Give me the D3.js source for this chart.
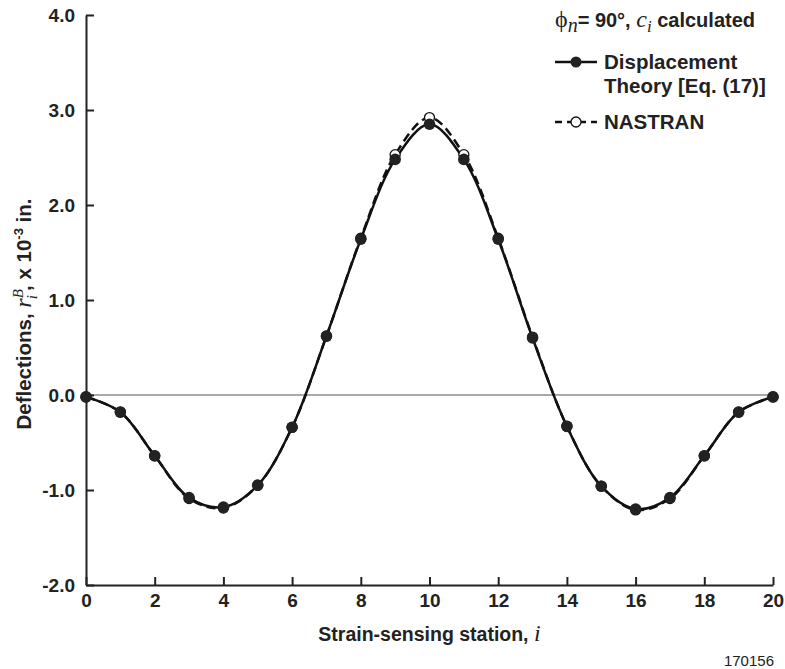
<!DOCTYPE html>
<html>
<head>
<meta charset="utf-8">
<script src="https://cdn.jsdelivr.net/npm/d3@7"></script>
<style>
  body { margin: 0; background: #fff; }
  text { font-family: "Liberation Sans", Arial, sans-serif; font-weight: bold; fill: #222; }
  .axis path, .axis line { stroke: #222; stroke-width: 2; }
  .axis text { font-size: 19px; }
  .math { font-family: "Liberation Serif", "Times New Roman", serif; font-style: italic; font-weight: normal; }
</style>
</head>
<body>
<div id="chart"></div>
<script>
// DATA
var stations = [0,1,2,3,4,5,6,7,8,9,10,11,12,13,14,15,16,17,18,19,20];
var theory  = [-0.02,-0.18,-0.64,-1.08,-1.18,-0.95,-0.34,0.62,1.64,2.48,2.85,2.48,1.64,0.60,-0.33,-0.96,-1.20,-1.08,-0.64,-0.18,-0.02];
var nastran = [-0.02,-0.18,-0.64,-1.09,-1.19,-0.95,-0.34,0.62,1.65,2.53,2.92,2.53,1.65,0.61,-0.33,-0.96,-1.21,-1.09,-0.64,-0.18,-0.02];
var xTicks = [0,2,4,6,8,10,12,14,16,18,20];
var yTicks = [-2,-1,0,1,2,3,4];

var W = 785, H = 669;
var margin = {top: 15, right: 12, bottom: 84, left: 86};

var svg = d3.select('#chart').append('svg')
  .attr('width', W)
  .attr('height', H);

var x = d3.scaleLinear().domain([0, 20]).range([margin.left, W - margin.right]);
var y = d3.scaleLinear().domain([-2, 4]).range([H - margin.bottom, margin.top]);

// zero line
svg.append('line')
  .attr('x1', x(0)).attr('x2', x(20))
  .attr('y1', y(0)).attr('y2', y(0))
  .attr('stroke', '#555').attr('stroke-width', 1.2);

// AXES - ticks point inward
svg.append('g')
  .attr('class', 'axis')
  .attr('transform', 'translate(0,' + y(-2) + ')')
  .call(d3.axisBottom(x).tickValues(xTicks).tickSize(-8).tickSizeOuter(0).tickPadding(5).tickFormat(d3.format('d')))
  .call(function(g) { g.selectAll('text').attr('dy', '0.9em'); });

svg.append('g')
  .attr('class', 'axis')
  .attr('transform', 'translate(' + x(0) + ',0)')
  .call(d3.axisLeft(y).tickValues(yTicks).tickSize(-8).tickSizeOuter(0).tickPadding(11)
    .tickFormat(function(d) { return d.toFixed(1); }));

// CURVES
var line = d3.line()
  .x(function(d, i) { return x(stations[i]); })
  .y(function(d) { return y(d); })
  .curve(d3.curveCatmullRom.alpha(0.5));

svg.append('path')
  .attr('d', line(nastran))
  .attr('fill', 'none')
  .attr('stroke', '#111')
  .attr('stroke-width', 2.5)
  .attr('stroke-dasharray', '9,5');

svg.append('path')
  .attr('d', line(theory))
  .attr('fill', 'none')
  .attr('stroke', '#111')
  .attr('stroke-width', 2.5);

// MARKERS - open NASTRAN circles beneath filled theory points
svg.selectAll('.pt.nas')
  .data(nastran)
  .enter().append('circle')
    .attr('class', 'pt nas')
    .attr('cx', function(d, i) { return x(stations[i]); })
    .attr('cy', function(d) { return y(d); })
    .attr('r', 5)
    .attr('fill', '#fff')
    .attr('stroke', '#111')
    .attr('stroke-width', 1.3);

svg.selectAll('.pt.th')
  .data(theory)
  .enter().append('circle')
    .attr('class', 'pt th')
    .attr('cx', function(d, i) { return x(stations[i]); })
    .attr('cy', function(d) { return y(d); })
    .attr('r', 5.8)
    .attr('fill', '#222');

// AXIS TITLES
var xt = svg.append('text')
  .attr('x', (x(0) + x(20)) / 2)
  .attr('y', 641)
  .attr('text-anchor', 'middle')
  .attr('font-size', 19.5);
xt.append('tspan').text('Strain-sensing station, ');
xt.append('tspan').attr('class', 'math').attr('font-size', 24).text('i');

var yt = svg.append('text')
  .attr('transform', 'translate(31,' + ((y(4) + y(-2)) / 2 + 14) + ') rotate(-90)')
  .attr('text-anchor', 'middle')
  .attr('font-size', 20.5);
yt.append('tspan').text('Deflections, ');
yt.append('tspan').attr('class', 'math').attr('font-size', 24).text('r');
yt.append('tspan').attr('class', 'math').attr('font-size', 15).attr('dy', -8).text('B');
yt.append('tspan').attr('class', 'math').attr('font-size', 15).attr('dx', -10).attr('dy', 14).text('i');
yt.append('tspan').attr('dy', -6).attr('dx', 4).text(', x 10');
yt.append('tspan').attr('font-size', 13).attr('dy', -8).text('-3');
yt.append('tspan').attr('dy', 8).text(' in.');

// LEGEND
var lg = svg.append('g');
var title = lg.append('text').attr('x', 555).attr('y', 27).attr('font-size', 20);
title.append('tspan').attr('font-family', '"Liberation Serif", serif').style('font-weight', 'normal').attr('font-size', 24).text('ϕ');
title.append('tspan').attr('class', 'math').attr('font-size', 20).attr('dy', 5).text('n');
title.append('tspan').attr('dy', -5).text('= 90°, ');
title.append('tspan').attr('class', 'math').attr('font-size', 24).text('c');
title.append('tspan').attr('class', 'math').attr('font-size', 17).attr('dy', 5).text('i');
title.append('tspan').attr('dy', -5).text(' calculated');

lg.append('line').attr('x1', 555).attr('x2', 597).attr('y1', 62).attr('y2', 62)
  .attr('stroke', '#111').attr('stroke-width', 2.5);
lg.append('circle').attr('cx', 576).attr('cy', 62).attr('r', 5.5).attr('fill', '#222');
lg.append('text').attr('x', 604).attr('y', 69).attr('font-size', 20.5).text('Displacement');
lg.append('text').attr('x', 604).attr('y', 93).attr('font-size', 20.5).text('Theory [Eq. (17)]');

lg.append('line').attr('x1', 555).attr('x2', 597).attr('y1', 122).attr('y2', 122)
  .attr('stroke', '#111').attr('stroke-width', 2.5).attr('stroke-dasharray', '7,5');
lg.append('circle').attr('cx', 576).attr('cy', 122).attr('r', 5).attr('fill', '#fff')
  .attr('stroke', '#111').attr('stroke-width', 1.3);
lg.append('text').attr('x', 604).attr('y', 129).attr('font-size', 20.5).text('NASTRAN');

// figure id
svg.append('text')
  .attr('x', 774).attr('y', 666)
  .attr('text-anchor', 'end')
  .attr('font-size', 15)
  .style('font-weight', 'normal')
  .text('170156');
</script>
</body>
</html>
